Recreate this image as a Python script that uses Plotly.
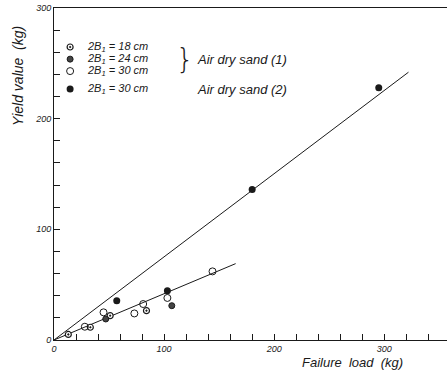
import plotly.graph_objects as go

# ---- data (kg) ----
b18_x = [13, 33, 51, 84]
b18_y = [5, 11.5, 22, 26.5]
b24_x = [47, 107]
b24_y = [19, 31]
b30_x = [28, 45, 73, 81, 103, 144]
b30_y = [12, 25, 24, 32.5, 38, 62]
sand2_x = [57, 103, 180, 295]
sand2_y = [35.5, 44.5, 136, 228]

fit1_x = [0, 165]
fit1_y = [0, 69]
fit2_x = [0, 322]
fit2_y = [0, 242]

x_major = [0, 100, 200, 300]
y_major = [0, 100, 200, 300]
tick_step = 20

legend_labels = ["2B<sub>1</sub> = 18 cm", "2B<sub>1</sub> = 24 cm",
                 "2B<sub>1</sub> = 30 cm", "2B<sub>1</sub> = 30 cm"]
group_labels = ["Air dry sand (1)", "Air dry sand (2)"]

FONT = "Liberation Sans"
ink = "#1a1a1a"

fig = go.Figure()

fig.add_trace(go.Scatter(x=fit1_x, y=fit1_y, mode="lines",
                         line=dict(color=ink, width=1), showlegend=False))
fig.add_trace(go.Scatter(x=fit2_x, y=fit2_y, mode="lines",
                         line=dict(color=ink, width=1), showlegend=False))

m18 = dict(symbol="circle-dot", size=6, color="white", line=dict(color=ink, width=1.2))
m24 = dict(symbol="circle", size=6, color="#444", line=dict(color=ink, width=1))
m30 = dict(symbol="circle-open", size=7, color=ink, line=dict(width=1))
m2 = dict(symbol="circle", size=7, color=ink)

fig.add_trace(go.Scatter(x=b18_x, y=b18_y, mode="markers", marker=m18, showlegend=False))
fig.add_trace(go.Scatter(x=b24_x, y=b24_y, mode="markers", marker=m24, showlegend=False))
fig.add_trace(go.Scatter(x=b30_x, y=b30_y, mode="markers", marker=m30, showlegend=False))
fig.add_trace(go.Scatter(x=sand2_x, y=sand2_y, mode="markers", marker=m2, showlegend=False))

# legend drawn on an invisible overlay axis (paper-like 0..1)
leg_y = [0.8825, 0.846, 0.810, 0.756]
leg_x = 0.041
for my, mk in zip(leg_y, [m18, m24, m30, m2]):
    fig.add_trace(go.Scatter(x=[leg_x], y=[my], mode="markers", marker=mk,
                             xaxis="x2", yaxis="y2", showlegend=False))

annotations = []
for my, lab in zip(leg_y, legend_labels):
    annotations.append(dict(x=0.078, y=my, xref="paper", yref="paper", text=lab,
                            showarrow=False, xanchor="left", yanchor="middle",
                            font=dict(family=FONT, size=11, color=ink, style="italic")))
annotations.append(dict(x=0.334, y=0.846, xref="paper", yref="paper", text="}",
                        showarrow=False, xanchor="center", yanchor="middle",
                        font=dict(family="DejaVu Sans", size=28, color=ink, weight=300)))
annotations.append(dict(x=0.358, y=0.846, xref="paper", yref="paper", text=group_labels[0],
                        showarrow=False, xanchor="left", yanchor="middle",
                        font=dict(family=FONT, size=13, color=ink, style="italic")))
annotations.append(dict(x=0.358, y=0.756, xref="paper", yref="paper", text=group_labels[1],
                        showarrow=False, xanchor="left", yanchor="middle",
                        font=dict(family=FONT, size=13, color=ink, style="italic")))
annotations.append(dict(x=-0.092, y=0.795, xref="paper", yref="paper",
                        text="Yield value  (kg)", textangle=-90, showarrow=False,
                        xanchor="center", yanchor="middle",
                        font=dict(family=FONT, size=14, color=ink, style="italic")))
annotations.append(dict(x=0.76, y=-0.068, xref="paper", yref="paper",
                        text="Failure  load  (kg)", showarrow=False,
                        xanchor="center", yanchor="middle",
                        font=dict(family=FONT, size=13, color=ink, style="italic")))

minor = dict(dtick=tick_step, ticks="inside", ticklen=6, tickcolor=ink, tickwidth=1,
             showgrid=False)

fig.update_layout(
    width=447, height=377,
    margin=dict(l=54, r=0, t=8, b=37),
    paper_bgcolor="white", plot_bgcolor="white",
    showlegend=False,
    annotations=annotations,
    xaxis=dict(range=[0, 357], tickvals=x_major,
               ticks="inside", ticklen=6, tickcolor=ink, tickwidth=1,
               minor=minor,
               showline=True, linecolor=ink, linewidth=1, mirror=True,
               showgrid=False, zeroline=False,
               tickfont=dict(family=FONT, size=9, color=ink, style="italic")),
    yaxis=dict(range=[0, 300], tickvals=y_major,
               ticks="inside", ticklen=6, tickcolor=ink, tickwidth=1,
               minor=minor,
               showline=True, linecolor=ink, linewidth=1,
               showgrid=False, zeroline=False,
               tickfont=dict(family=FONT, size=9, color=ink, style="italic")),
    xaxis2=dict(range=[0, 1], overlaying="x", visible=False),
    yaxis2=dict(range=[0, 1], overlaying="y", visible=False),
)

fig.write_html("out.html")
